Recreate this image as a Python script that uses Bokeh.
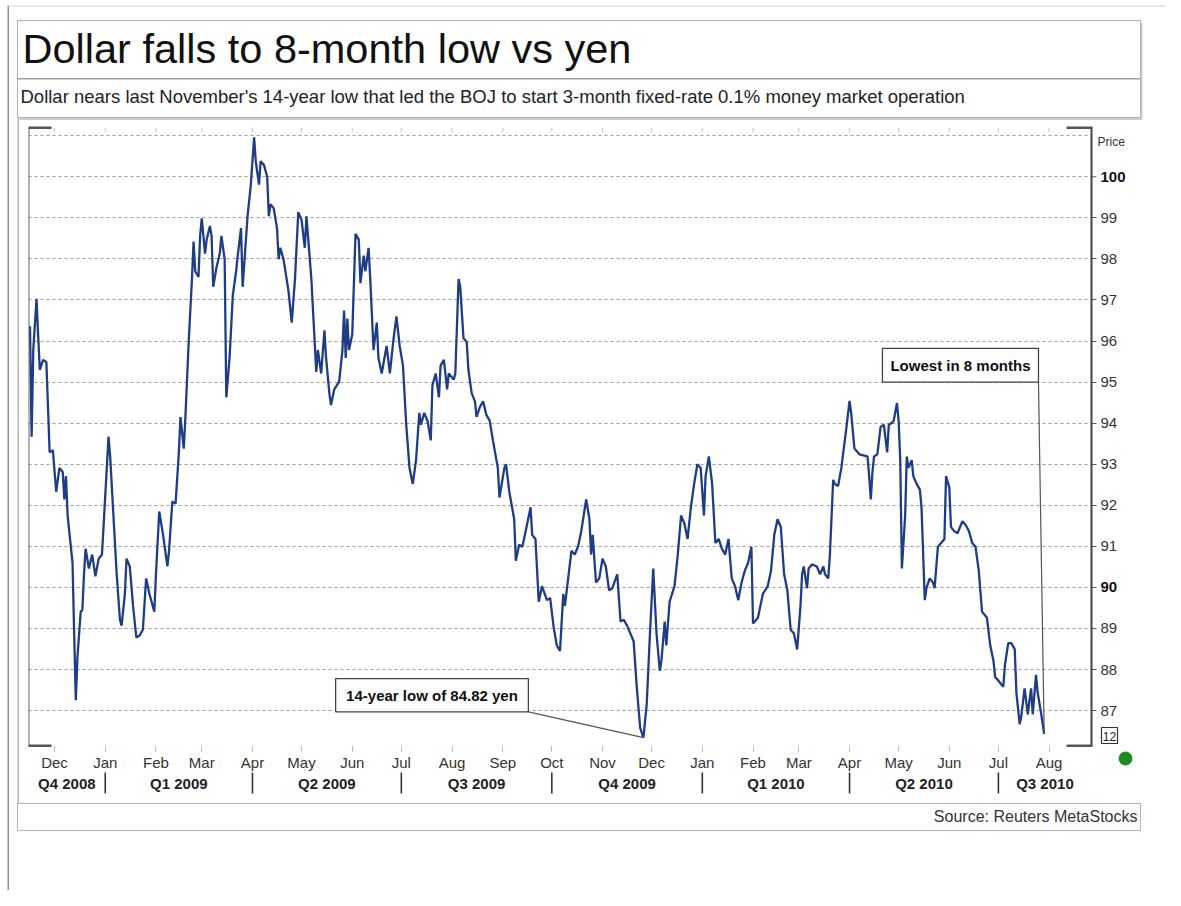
import pandas as pd
from bokeh.plotting import figure
from bokeh.models import (FixedTicker, DatetimeAxis, Label, Span, Range1d, GridBox)
from bokeh.embed import file_html
from bokeh.resources import INLINE

# ---------------- data ----------------
dates = [
    "2008-11-16", "2008-11-17", "2008-11-18", "2008-11-20", "2008-11-21", "2008-11-22", "2008-11-24", "2008-11-26",
    "2008-11-28", "2008-11-30", "2008-12-02", "2008-12-04", "2008-12-06", "2008-12-07", "2008-12-08", "2008-12-09",
    "2008-12-12", "2008-12-13", "2008-12-14", "2008-12-15", "2008-12-17", "2008-12-18", "2008-12-19", "2008-12-20",
    "2008-12-22", "2008-12-24", "2008-12-26", "2008-12-28", "2008-12-30",
    "2009-01-01", "2009-01-03", "2009-01-04", "2009-01-06", "2009-01-08", "2009-01-10", "2009-01-11", "2009-01-13",
    "2009-01-14", "2009-01-16", "2009-01-18", "2009-01-20", "2009-01-22", "2009-01-24", "2009-01-26", "2009-01-28",
    "2009-01-31", "2009-02-01", "2009-02-03", "2009-02-05", "2009-02-08", "2009-02-09", "2009-02-11", "2009-02-13",
    "2009-02-15", "2009-02-16", "2009-02-18", "2009-02-19", "2009-02-21", "2009-02-23", "2009-02-24", "2009-02-25",
    "2009-02-27", "2009-02-28", "2009-03-01", "2009-03-03", "2009-03-04", "2009-03-06", "2009-03-07", "2009-03-08",
    "2009-03-10", "2009-03-12", "2009-03-13", "2009-03-15", "2009-03-16", "2009-03-18", "2009-03-20", "2009-03-22",
    "2009-03-23", "2009-03-25", "2009-03-26", "2009-03-28", "2009-03-29", "2009-03-31", "2009-04-02", "2009-04-03",
    "2009-04-05", "2009-04-06", "2009-04-08", "2009-04-10", "2009-04-11", "2009-04-12", "2009-04-14", "2009-04-16",
    "2009-04-17", "2009-04-18", "2009-04-20", "2009-04-23", "2009-04-25", "2009-04-27", "2009-04-29", "2009-05-01",
    "2009-05-03", "2009-05-04", "2009-05-07", "2009-05-10", "2009-05-11", "2009-05-13", "2009-05-15", "2009-05-16",
    "2009-05-18", "2009-05-19", "2009-05-21", "2009-05-24", "2009-05-26", "2009-05-27", "2009-05-28", "2009-05-29",
    "2009-05-30", "2009-06-01", "2009-06-03", "2009-06-05", "2009-06-06", "2009-06-08", "2009-06-09", "2009-06-11",
    "2009-06-12", "2009-06-14", "2009-06-16", "2009-06-17", "2009-06-19", "2009-06-22", "2009-06-24", "2009-06-26",
    "2009-06-28", "2009-06-30", "2009-07-02", "2009-07-04", "2009-07-06", "2009-07-08", "2009-07-10", "2009-07-12",
    "2009-07-13", "2009-07-15", "2009-07-17", "2009-07-19", "2009-07-20", "2009-07-22", "2009-07-24", "2009-07-25",
    "2009-07-27", "2009-07-29", "2009-07-30", "2009-08-02", "2009-08-03", "2009-08-05", "2009-08-06", "2009-08-08",
    "2009-08-10", "2009-08-11", "2009-08-13", "2009-08-15", "2009-08-16", "2009-08-18", "2009-08-20", "2009-08-22",
    "2009-08-24", "2009-08-26", "2009-08-29", "2009-08-30", "2009-09-02", "2009-09-03", "2009-09-05", "2009-09-08",
    "2009-09-09", "2009-09-11", "2009-09-13", "2009-09-15", "2009-09-18", "2009-09-19", "2009-09-21", "2009-09-23",
    "2009-09-25", "2009-09-28", "2009-09-30", "2009-10-02", "2009-10-04", "2009-10-06", "2009-10-08", "2009-10-09",
    "2009-10-11", "2009-10-13", "2009-10-15", "2009-10-17", "2009-10-19", "2009-10-22", "2009-10-24", "2009-10-25",
    "2009-10-26", "2009-10-28", "2009-10-30", "2009-11-01", "2009-11-03", "2009-11-05", "2009-11-07", "2009-11-10",
    "2009-11-12", "2009-11-14", "2009-11-16", "2009-11-18", "2009-11-20", "2009-11-22", "2009-11-24", "2009-11-26",
    "2009-11-28", "2009-11-30", "2009-12-02", "2009-12-04", "2009-12-06", "2009-12-07", "2009-12-09", "2009-12-10",
    "2009-12-12", "2009-12-15", "2009-12-17", "2009-12-19", "2009-12-21", "2009-12-23", "2009-12-25", "2009-12-27",
    "2009-12-29", "2009-12-31",
    "2010-01-02", "2010-01-03", "2010-01-05", "2010-01-07", "2010-01-09", "2010-01-11", "2010-01-13", "2010-01-15",
    "2010-01-17", "2010-01-19", "2010-01-21", "2010-01-23", "2010-01-25", "2010-01-27", "2010-01-29", "2010-01-31",
    "2010-02-01", "2010-02-04", "2010-02-07", "2010-02-10", "2010-02-12", "2010-02-14", "2010-02-16", "2010-02-18",
    "2010-02-20", "2010-02-22", "2010-02-24", "2010-02-26", "2010-02-28", "2010-03-02", "2010-03-03", "2010-03-04",
    "2010-03-06", "2010-03-07", "2010-03-09", "2010-03-12", "2010-03-14", "2010-03-16", "2010-03-17", "2010-03-19",
    "2010-03-20", "2010-03-22", "2010-03-23", "2010-03-25", "2010-03-27", "2010-03-30", "2010-04-01", "2010-04-02",
    "2010-04-04", "2010-04-07", "2010-04-10", "2010-04-12", "2010-04-13", "2010-04-14", "2010-04-15", "2010-04-16",
    "2010-04-18", "2010-04-20", "2010-04-22", "2010-04-24", "2010-04-25", "2010-04-27", "2010-04-28", "2010-04-30",
    "2010-05-01", "2010-05-02", "2010-05-03", "2010-05-05", "2010-05-06", "2010-05-07", "2010-05-09", "2010-05-10",
    "2010-05-12", "2010-05-14", "2010-05-15", "2010-05-17", "2010-05-18", "2010-05-20", "2010-05-22", "2010-05-23",
    "2010-05-25", "2010-05-27", "2010-05-29", "2010-05-30", "2010-06-01", "2010-06-02", "2010-06-04", "2010-06-06",
    "2010-06-09", "2010-06-11", "2010-06-13", "2010-06-15", "2010-06-17", "2010-06-19", "2010-06-21", "2010-06-24",
    "2010-06-26", "2010-06-28", "2010-06-29", "2010-07-01", "2010-07-02", "2010-07-04", "2010-07-05", "2010-07-07",
    "2010-07-09", "2010-07-11", "2010-07-12", "2010-07-14", "2010-07-15", "2010-07-17", "2010-07-19", "2010-07-20",
    "2010-07-21", "2010-07-22", "2010-07-24", "2010-07-25", "2010-07-27", "2010-07-29",
]

usd_jpy = [
    96.36, 93.67, 95.78, 97.03, 96.12, 95.30, 95.54, 95.49,
    93.29, 93.34, 92.33, 92.91, 92.81, 92.14, 92.71, 91.75,
    90.60, 88.88, 87.25, 88.30, 89.41, 89.45, 90.32, 90.94,
    90.46, 90.80, 90.27, 90.70, 90.80,
    92.23, 93.67, 93.19, 91.75, 90.32, 89.21, 89.07, 89.84,
    90.70, 90.51, 89.55, 88.78, 88.83, 88.97, 90.22, 89.84,
    89.41, 90.32, 91.85, 91.37, 90.51, 90.89, 92.09, 92.04,
    93.29, 94.15, 93.38, 94.15, 95.97, 97.51, 98.42, 97.70,
    97.56, 98.56, 98.99, 98.13, 98.47, 98.80, 98.56, 97.32,
    97.79, 98.13, 98.56, 97.99, 94.63, 95.59, 97.12, 97.70,
    98.08, 98.75, 97.32, 98.47, 99.04, 99.81, 100.96, 100.38,
    99.81, 100.38, 100.29, 100.00, 99.04, 99.33, 99.23, 98.75,
    97.99, 98.27, 97.99, 97.22, 96.45, 97.51, 99.14, 98.95,
    98.27, 99.04, 97.51, 95.25, 95.78, 95.21, 96.26, 95.59,
    94.73, 94.44, 94.82, 95.01, 95.78, 96.74, 95.59, 96.55,
    95.78, 96.16, 98.61, 98.47, 97.41, 98.08, 97.70, 98.27,
    97.51, 95.78, 96.45, 95.59, 95.21, 95.88, 95.21, 95.97,
    96.60, 95.88, 95.40, 93.96, 92.91, 92.52, 93.10, 94.25,
    93.96, 94.25, 94.06, 93.58, 94.92, 95.21, 94.63, 95.40,
    95.54, 94.82, 95.21, 95.06, 95.21, 97.51, 97.32, 96.07,
    95.97, 95.30, 94.73, 94.53, 94.15, 94.39, 94.53, 94.20,
    94.06, 93.58, 92.91, 92.19, 92.91, 93.00, 92.33, 91.66,
    90.65, 91.04, 90.99, 91.37, 91.95, 91.28, 91.18, 89.65,
    90.03, 89.69, 89.74, 89.07, 88.59, 88.45, 89.84, 89.55,
    90.22, 90.89, 90.80, 90.99, 91.37, 92.14, 91.66, 90.80,
    91.28, 90.12, 90.22, 90.70, 90.51, 89.93, 89.98, 90.32,
    89.17, 89.21, 89.07, 88.88, 88.69, 87.54, 86.58, 86.34,
    87.15, 88.88, 90.46, 88.88, 87.97, 88.21, 89.17, 88.59,
    89.65, 90.03, 90.80, 91.75, 91.56, 91.18, 91.95, 92.52,
    93.00, 92.91,
    91.75, 92.71, 93.19, 92.52, 91.08, 91.18, 90.94, 90.80,
    91.18, 90.22, 90.03, 89.69, 90.12, 90.41, 90.60, 90.99,
    89.12, 89.26, 89.84, 90.03, 90.41, 91.28, 91.66, 91.47,
    90.32, 89.93, 88.97, 88.88, 88.49, 89.55, 90.32, 90.51,
    89.98, 90.46, 90.56, 90.51, 90.32, 90.51, 90.32, 90.22,
    90.80, 92.62, 92.52, 92.47, 92.91, 93.86, 94.54, 94.25,
    93.38, 93.24, 93.21, 93.19, 92.71, 92.14, 92.81, 93.19,
    93.24, 93.91, 93.96, 93.29, 93.96, 94.01, 94.06, 94.49,
    94.06, 93.10, 90.46, 91.75, 93.19, 92.91, 93.10, 92.71,
    92.52, 92.38, 91.95, 89.69, 89.98, 90.22, 90.12, 89.98,
    90.99, 91.08, 91.18, 92.71, 92.43, 91.47, 91.37, 91.32,
    91.61, 91.52, 91.37, 91.08, 90.99, 90.41, 89.41, 89.26,
    88.59, 88.21, 87.82, 87.73, 87.68, 87.58, 88.11, 88.64,
    88.64, 88.49, 87.44, 86.67, 86.86, 87.54, 86.91, 87.25,
    87.54, 86.91, 87.87, 87.44, 86.96, 86.43,
]

month_starts = ["2008-12-01", "2009-01-01", "2009-02-01", "2009-03-01", "2009-04-01", "2009-05-01",
                "2009-06-01", "2009-07-01", "2009-08-01", "2009-09-01", "2009-10-01", "2009-11-01",
                "2009-12-01", "2010-01-01", "2010-02-01", "2010-03-01", "2010-04-01", "2010-05-01",
                "2010-06-01", "2010-07-01", "2010-08-01"]
month_labels = ["Dec", "Jan", "Feb", "Mar", "Apr", "May", "Jun", "Jul", "Aug", "Sep", "Oct", "Nov",
                "Dec", "Jan", "Feb", "Mar", "Apr", "May", "Jun", "Jul", "Aug"]
quarter_edges = ["2008-10-01", "2009-01-01", "2009-04-01", "2009-07-01", "2009-10-01",
                 "2010-01-01", "2010-04-01", "2010-07-01", "2010-10-01"]
quarter_labels = ["Q4 2008", "Q1 2009", "Q2 2009", "Q3 2009", "Q4 2009", "Q1 2010", "Q2 2010", "Q3 2010"]
price_ticks = [87, 88, 89, 90, 91, 92, 93, 94, 95, 96, 97, 98, 99, 100]
bold_prices = [90, 100]
grid_levels = list(range(87, 102))

TITLE = "Dollar falls to 8-month low vs yen"
SUBTITLE = ("Dollar nears last November's 14-year low that led the BOJ to start "
            "3-month fixed-rate 0.1% money market operation")
SOURCE = "Source: Reuters MetaStocks"
NOTE_LOW = "14-year low of 84.82 yen"
NOTE_LAST = "Lowest in 8 months"

X_START, X_END = "2008-11-15 02:00", "2010-08-26 22:00"
Y_START, Y_END = 86.15, 101.2

# annotation boxes (data coordinates)
BOX_LOW = dict(left="2009-05-21 20:00", right="2009-09-16 16:00", top=87.78, bottom=86.97)
BOX_LAST = dict(left="2010-04-21 03:00", right="2010-07-25 12:00", top=95.82, bottom=95.0)

# ---------------- layout constants (pixels) ----------------
W, H = 1165, 890
FL, FT, FW, FH = 28, 127, 1063, 618          # plot frame left/top/width/height
FONT = "Liberation Sans"
LINE_BLUE = "#1f3d84"


def ms(s):
    return pd.Timestamp(s).value // 10**6


x0, x1 = ms(X_START), ms(X_END)

# ================= main chart =================
p = figure(x_axis_type="datetime", y_axis_location="right",
           x_range=Range1d(x0, x1), y_range=Range1d(Y_START, Y_END),
           frame_width=FW, frame_height=FH,
           min_border_left=FL, min_border_right=W - FL - FW, min_border_top=FT,
           min_border_bottom=H - FT - FH,
           output_backend="svg", toolbar_location=None,
           background_fill_color="white", border_fill_color="white",
           outline_line_color=None)
p.frame_align = False

p.xgrid.visible = False
p.ygrid.ticker = FixedTicker(ticks=grid_levels)
p.ygrid.grid_line_color = "#9a9a9a"
p.ygrid.grid_line_dash = "3 3"
p.ygrid.grid_line_width = 1

# month axis
m_ticks = [ms(d) for d in month_starts]
xa = p.xaxis[0]
xa.ticker = FixedTicker(ticks=m_ticks)
xa.major_label_overrides = {t: lab for t, lab in zip(m_ticks, month_labels)}
xa.axis_line_color = None
xa.major_tick_in = 0
xa.major_tick_out = 6
xa.major_tick_line_color = "#777777"
xa.major_tick_line_dash = "1 1"
xa.minor_tick_line_color = None
xa.major_label_standoff = 2
xa.major_label_text_font = FONT
xa.major_label_text_font_size = "15px"
xa.major_label_text_color = "#333333"

# quarter axis
q_ticks, q_over = [], {}
for i, lab in enumerate(quarter_labels):
    a = max(ms(quarter_edges[i]), x0)
    b = min(ms(quarter_edges[i + 1]), x1)
    c = (a + b) // 2
    q_ticks.append(c)
    q_over[c] = lab
qa = DatetimeAxis(ticker=FixedTicker(ticks=q_ticks), major_label_overrides=q_over,
                  axis_line_color=None, major_tick_in=0, major_tick_out=0,
                  major_tick_line_color=None, minor_tick_line_color=None,
                  major_label_standoff=1, major_label_text_font=FONT,
                  major_label_text_font_size="15px", major_label_text_font_style="bold",
                  major_label_text_color="#222222")
p.add_layout(qa, "below")

# price axis (regular labels; bold ones drawn in overlay)
ya = p.yaxis[0]
ya.ticker = FixedTicker(ticks=[v for v in price_ticks if v not in bold_prices])
ya.axis_line_color = "#444444"
ya.axis_line_width = 2
ya.major_tick_in = 0
ya.major_tick_out = 5
ya.major_tick_line_color = "#555555"
ya.minor_tick_line_color = None
ya.major_label_standoff = 4
ya.major_label_text_font = FONT
ya.major_label_text_font_size = "15px"
ya.major_label_text_color = "#333333"

p.add_layout(Span(location=x0, dimension="height", line_color="#666666", line_width=2))

# data line
xd = pd.to_datetime(dates)
p.line(xd, usd_jpy, line_color=LINE_BLUE, line_width=2.3)

# call-outs
i_min = min(range(len(usd_jpy)), key=lambda i: usd_jpy[i])
p.segment(x0=[pd.Timestamp(BOX_LOW["right"]), pd.Timestamp(BOX_LAST["right"])],
          y0=[BOX_LOW["bottom"], BOX_LAST["bottom"]],
          x1=[xd[i_min], xd[-1]], y1=[usd_jpy[i_min], usd_jpy[-1]],
          line_color="#555555", line_width=1.2)
for box, txt in [(BOX_LOW, NOTE_LOW), (BOX_LAST, NOTE_LAST)]:
    l, r = pd.Timestamp(box["left"]), pd.Timestamp(box["right"])
    p.quad(left=[l], right=[r], top=[box["top"]], bottom=[box["bottom"]],
           fill_color="white", line_color="#444444", line_width=1.3)
    p.add_layout(Label(x=ms(l) + (ms(r) - ms(l)) / 2, y=(box["top"] + box["bottom"]) / 2,
                       text=txt, text_font=FONT, text_font_size="15px",
                       text_font_style="bold", text_color="#111111",
                       text_baseline="middle", text_align="center"))

# ================= overlay: page frame, titles, source =================
sx = (x1 - x0) / FW
sy = (Y_END - Y_START) / FH
ov = figure(width=W, height=H, x_range=Range1d(0, W), y_range=Range1d(H, 0),
            x_axis_location=None, y_axis_location=None, min_border=0,
            output_backend="svg", toolbar_location=None,
            background_fill_alpha=0, border_fill_alpha=0, outline_line_color=None)
ov.frame_align = False
ov.xgrid.visible = False
ov.ygrid.visible = False
ov.extra_x_ranges = {"date": Range1d(x0 - FL * sx, x1 + (W - FL - FW) * sx)}
ov.extra_y_ranges = {"price": Range1d(Y_START - (H - FT - FH) * sy, Y_END + FT * sy)}


def rect(l, r, t, b, fill, line=None, lw=1):
    ov.quad(left=[l], right=[r], top=[t], bottom=[b], fill_color=fill,
            line_color=line, line_width=lw)


rect(7, 8.5, 5, H, "#8c8c8c")                    # page rule (left)
rect(7, W, 5, 6, "#d2d2d2")                      # page rule (top)
rect(19, 1142, 22, 119.5, "#cdcdcd")             # header shadow
rect(17, 1140, 20, 117, "white", "#b0b0b0", 1)   # header box
rect(17, 1140, 77.5, 79, "#a0a0a0")              # header divider
rect(17, 18.5, 117, 803, "#b8b8b8")              # panel left rule
rect(17, 1140, 803, 830, "white", "#b4b4b4", 1)  # source box

# frame corner brackets
for (l, r, t, b) in [(FL, FL + 23, FT - 1, FT + 1.5), (FL, FL + 23, FT + FH - 1, FT + FH + 1.5),
                     (FL + FW - 25, FL + FW + 1, FT - 1, FT + 1.5),
                     (FL + FW - 25, FL + FW + 1, FT + FH - 1, FT + FH + 1.5)]:
    rect(l, r, t, b, "#555555")

# little month marks on the top edge
ov.segment(x0=[pd.Timestamp(d) for d in month_starts], x1=[pd.Timestamp(d) for d in month_starts],
           y0=FT + 1, y1=FT + 5, x_range_name="date", line_color="#888888",
           line_width=1, line_dash="1 1")

# quarter separators
q_sep = [pd.Timestamp(e) for e in quarter_edges if x0 < ms(e) < x1]
ov.segment(x0=q_sep, x1=q_sep, y0=772, y1=793, x_range_name="date",
           line_color="#333333", line_width=1.6)

# bold price labels + their ticks
ov.segment(x0=FL + FW, x1=FL + FW + 5, y0=bold_prices, y1=bold_prices,
           y_range_name="price", line_color="#555555", line_width=1)
for v in bold_prices:
    ov.add_layout(Label(x=FL + FW + 9, y=v, y_range_name="price", text=str(v),
                        text_font=FONT, text_font_size="15px", text_font_style="bold",
                        text_color="#111111", text_baseline="middle", text_align="left"))

ov.add_layout(Label(x=22, y=48, text=TITLE, text_font=FONT, text_font_size="41.5px",
                    text_color="#111111", text_baseline="middle", text_align="left"))
ov.add_layout(Label(x=20, y=95.5, text=SUBTITLE, text_font=FONT, text_font_size="18.5px",
                    text_color="#222222", text_baseline="middle", text_align="left"))
ov.add_layout(Label(x=1137, y=815.5, text=SOURCE, text_font=FONT, text_font_size="16px",
                    text_color="#333333", text_baseline="middle", text_align="right"))
ov.add_layout(Label(x=1097, y=141, text="Price", text_font=FONT, text_font_size="12px",
                    text_color="#333333", text_baseline="middle", text_align="left"))
rect(1101, 1117, 727, 743, "white", "#333333", 1.2)
ov.add_layout(Label(x=1109, y=735.5, text="12", text_font=FONT, text_font_size="12px",
                    text_color="#222222", text_baseline="middle", text_align="center"))
ov.scatter(x=[1125], y=[758], size=13, marker="circle", fill_color="#1d8a22", line_color="#1d8a22")

page = GridBox(children=[(p, 0, 0), (ov, 0, 0)])
open("out.html", "w").write(file_html(page, INLINE))
